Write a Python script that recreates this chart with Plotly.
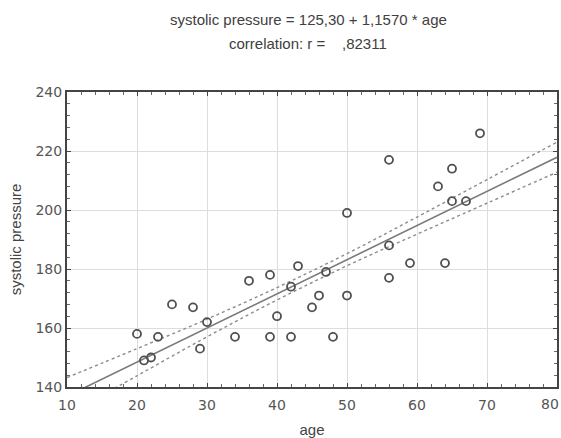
import plotly.graph_objects as go

# observed points
age = [69, 56, 65, 63, 65, 67, 50, 56, 59, 64, 56, 50, 46, 45, 47, 48,
       43, 39, 36, 42, 25, 28, 30, 40, 20, 23, 34, 39, 42, 29, 21, 22]
pressure = [226, 217, 214, 208, 203, 203, 199, 188, 182, 182, 177, 171, 171, 167, 179, 157,
            181, 178, 176, 174, 168, 167, 162, 164, 158, 157, 157, 157, 157, 153, 149, 150]

# regression (from the chart title)
intercept = 125.30
slope = 1.1570
x_range = [10, 80]
y_range = [140, 240]

# axis ticks
x_ticks = [10, 20, 30, 40, 50, 60, 70, 80]
x_tick_labels = ["10", "20", "30", "40", "50", "60", "70", "80"]
y_ticks = [140, 160, 180, 200, 220, 240]

# 95% confidence band
band_x = [10, 20, 30, 40, 50, 60, 70, 80]
band_upper = [143.2, 153.0, 163.0, 173.7, 185.2, 197.6, 210.3, 223.0]
band_lower = [130.6, 143.8, 157.0, 169.5, 181.1, 191.8, 202.3, 212.8]

fit_x = x_range
fit_y = [intercept + slope * v for v in fit_x]

FONT = "Liberation Sans, Arial"
TICKFONT = "DejaVu Sans"
TICKCOL = "#555555"

fig = go.Figure()
for band in (band_upper, band_lower):
    fig.add_trace(go.Scatter(x=band_x, y=band, mode="lines", line_shape="spline",
                             line=dict(color="#8c8c8c", width=1.4, dash="3px,3px"),
                             showlegend=False, hoverinfo="skip"))
fig.add_trace(go.Scatter(x=fit_x, y=fit_y, mode="lines",
                         line=dict(color="#7a7a7a", width=1.6), showlegend=False))
fig.add_trace(go.Scatter(x=age, y=pressure, mode="markers",
                         marker=dict(symbol="circle-open", size=8, color="#505050",
                                     line=dict(width=1.8, color="#505050")),
                         showlegend=False))

axis_common = dict(showline=True, linecolor="#444444", linewidth=2, mirror="allticks",
                   ticks="inside", ticklen=4, tickcolor="#444444", automargin=False,
                   showgrid=True, gridcolor="#dddddd", gridwidth=1.2, zeroline=False,
                   tickfont=dict(family=TICKFONT, size=14, color=TICKCOL))

# the last x label sits on the page edge; it is drawn right-aligned so it stays readable
fig.update_xaxes(range=x_range, tickmode="array", tickvals=x_ticks,
                 ticktext=x_tick_labels[:-1] + [""], ticklabelstandoff=4,
                 minor=dict(dtick=2, ticks="inside", ticklen=3, tickcolor="#666666", showgrid=False),
                 title=dict(text="age", font=dict(family=FONT, size=15, color="#444444"), standoff=13),
                 **axis_common)
fig.add_annotation(text=x_tick_labels[-1], xref="x", yref="paper", x=x_ticks[-1], y=0,
                   xanchor="right", yanchor="top", xshift=4, yshift=-7, showarrow=False,
                   font=dict(family=TICKFONT, size=14, color=TICKCOL))

fig.update_yaxes(range=y_range, tickmode="array", tickvals=y_ticks,
                 minor=dict(dtick=4, ticks="inside", ticklen=3, tickcolor="#666666", showgrid=False),
                 title=dict(text="systolic pressure", font=dict(family=FONT, size=15, color="#444444"),
                            standoff=10),
                 **axis_common)

fig.add_annotation(text="systolic pressure = 125,30 + 1,1570 * age", xref="paper", yref="paper",
                   x=0.492, y=1, yshift=73, xanchor="center", yanchor="middle", showarrow=False,
                   font=dict(family=FONT, size=15, color="#404040"))
fig.add_annotation(text="correlation: r =    ,82311", xref="paper", yref="paper",
                   x=0.492, y=1, yshift=49, xanchor="center", yanchor="middle", showarrow=False,
                   font=dict(family=FONT, size=15, color="#404040"))

fig.update_layout(
    width=561, height=438,
    margin=dict(l=67, r=4, t=92, b=51),
    paper_bgcolor="#ffffff", plot_bgcolor="#ffffff",
)

# remove the default page margin so the 561x438 figure fills the window exactly
fig.write_html("out.html", config={"displayModeBar": False},
               post_script="document.body.style.margin='0';document.body.style.overflow='hidden';")
